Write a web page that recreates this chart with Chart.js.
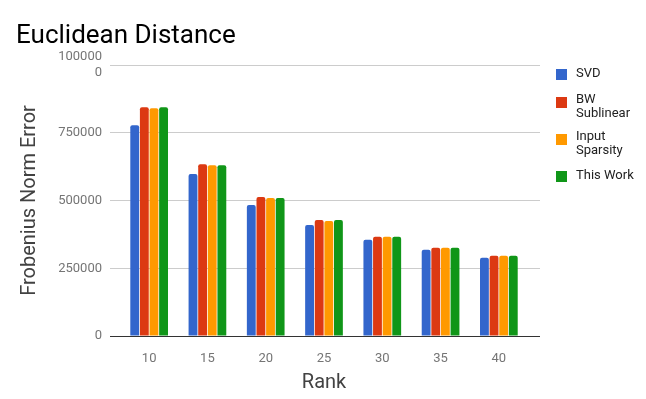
<!DOCTYPE html>
<html>
<head>
<meta charset="utf-8">
<script src="https://cdn.jsdelivr.net/npm/chart.js@4/dist/chart.umd.min.js"></script>
<style>
  html, body { margin: 0; padding: 0; background: #fff; }
  #wrap { position: relative; width: 646px; height: 399px; }
</style>
</head>
<body>
<div id="wrap"><canvas id="rankChart" width="646" height="399"></canvas></div>
<script>
// data
const ranks = ['10', '15', '20', '25', '30', '35', '40'];
const seriesNames = ['SVD', 'BW Sublinear', 'Input Sparsity', 'This Work'];
const seriesColors = ['#3366cc', '#dc3912', '#ff9900', '#109618'];

const svd = [777600, 597400, 483500, 409900, 354800, 318000, 288600];
const bwSublinear = [843700, 634200, 512900, 428300, 365800, 325400, 296000];
const inputSparsity = [840000, 630500, 509200, 424600, 365800, 325400, 296000];
const thisWork = [843700, 630500, 509200, 428300, 365800, 325400, 296000];

const yTicks = [0, 250000, 500000, 750000, 1000000];

const FONT = 'Roboto, "Noto Sans", Arial, sans-serif';

// title + wrapped legend drawn on the canvas
const extras = {
  id: 'extras',
  afterDraw(chart) {
    const c = chart.ctx;
    c.save();
    c.fillStyle = '#000';
    c.font = '26px ' + FONT;
    c.textBaseline = 'alphabetic';
    c.textAlign = 'left';
    c.fillText('Euclidean Distance', 16, 43);

    // legend on the right
    c.font = '13px ' + FONT;
    c.textBaseline = 'middle';
    let y = 74;
    chart.data.datasets.forEach(ds => {
      const words = ds.label.split(' ');
      const lines = [];
      let cur = '';
      words.forEach(w => {
        const test = cur ? cur + ' ' + w : w;
        if (cur && c.measureText(test).width > 64) { lines.push(cur); cur = w; }
        else cur = test;
      });
      lines.push(cur);
      c.fillStyle = ds.backgroundColor;
      c.fillRect(556, y - 5, 11, 11);
      c.fillStyle = '#222';
      const shift = lines.length > 1 ? -2 : 0;
      lines.forEach((ln, i) => c.fillText(ln, 576, y + shift + i * 14));
      y += 28 + (lines.length - 1) * 9;
    });
    c.restore();
  }
};

const gridColor = ctx => (ctx.tick && ctx.tick.value === 0) ? '#333333' : '#cccccc';

new Chart(document.getElementById('rankChart').getContext('2d'), {
  type: 'bar',
  data: {
    labels: ranks,
    datasets: [svd, bwSublinear, inputSparsity, thisWork].map((vals, i) => ({
      label: seriesNames[i],
      data: vals,
      backgroundColor: seriesColors[i],
      borderRadius: { topLeft: 2, topRight: 2 },
      borderSkipped: 'bottom',
      categoryPercentage: 0.66,
      barPercentage: 0.92
    }))
  },
  options: {
    responsive: false,
    animation: false,
    layout: { padding: { top: 65, right: 106, bottom: 0, left: 0 } },
    plugins: {
      legend: { display: false },
      title: { display: false },
      tooltip: { enabled: false }
    },
    scales: {
      x: {
        grid: { display: false },
        border: { display: false },
        ticks: { color: '#757575', font: { family: FONT, size: 13 }, padding: 7 },
        title: {
          display: true, text: 'Rank', color: '#424242',
          font: { family: FONT, size: 20 }, padding: { top: 0, bottom: 4 }
        },
        afterFit: s => { s.height = 63; }
      },
      y: {
        min: 0, max: 1000000,
        afterBuildTicks: s => { s.ticks = yTicks.map(v => ({ value: v })); },
        grid: { color: gridColor, tickColor: gridColor, tickLength: 10, lineWidth: 1 },
        border: { display: false },
        ticks: {
          color: '#757575', font: { family: FONT, size: 13 }, padding: 8,
          callback: v => v === 1000000 ? ['100000', '0'] : String(v)
        },
        title: {
          display: true, text: 'Frobenius Norm Error', color: '#424242',
          font: { family: FONT, size: 20 }, padding: { top: 18, bottom: 0 }
        },
        afterFit: s => { s.width = 120; }
      },
      y2: {
        position: 'right',
        min: 0, max: 1000000,
        afterBuildTicks: s => { s.ticks = yTicks.map(v => ({ value: v })); },
        grid: { drawOnChartArea: false, color: gridColor, tickColor: gridColor, tickLength: 12 },
        border: { display: false },
        ticks: { display: false },
        afterFit: s => { s.width = 12; }
      }
    }
  },
  plugins: [extras]
});
</script>
</body>
</html>
